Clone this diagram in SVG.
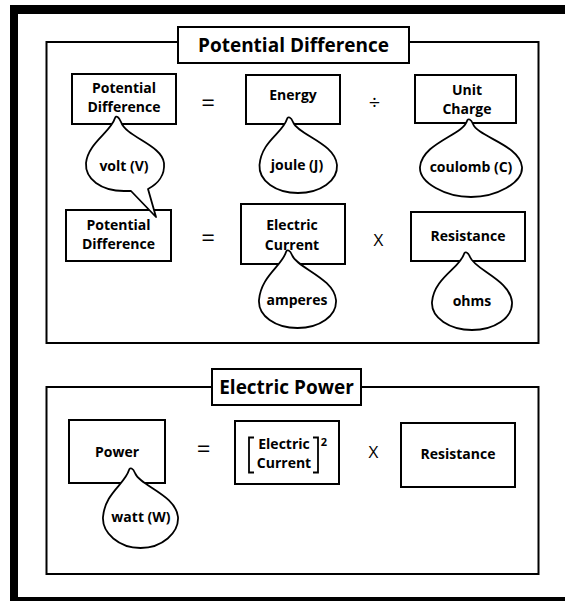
<svg xmlns="http://www.w3.org/2000/svg" width="565" height="601" viewBox="0 0 565 601">
<style>
.frame{fill:none;stroke:#000;stroke-width:2}
.box{fill:#fff;stroke:#000;stroke-width:2}
.bub{fill:#fff;stroke:#000;stroke-width:1.8;stroke-linejoin:round}
.lbl{font-family:"Open Sans","Liberation Sans",sans-serif;font-weight:700;font-size:14px;text-anchor:middle;fill:#000}
.ttl{font-family:"Open Sans","Liberation Sans",sans-serif;font-weight:700;font-size:19px;text-anchor:middle;fill:#000}
.op{font-family:"Open Sans","Liberation Sans",sans-serif;font-weight:400;text-anchor:middle;fill:#000}
</style>
<rect x="0" y="0" width="565" height="601" fill="#fff"/>
<g id="outer-border" fill="#000">
<rect x="10" y="5" width="555" height="9"/>
<rect x="10" y="5" width="8" height="596"/>
<rect x="10" y="597" width="555" height="4"/>
</g>
<g id="section-potential">
<rect class="frame" x="46.5" y="42" width="492" height="301"/>
<g id="title-potential"><rect class="box" x="178" y="27" width="231" height="36"/><text class="ttl" x="293.5" y="51.5">Potential Difference</text></g>
</g>
<g id="section-power">
<rect class="frame" x="46.5" y="387" width="492" height="187"/>
<g id="title-power"><rect class="box" x="212" y="369" width="149" height="36"/><text class="ttl" x="286.5" y="393.5">Electric Power</text></g>
</g>
<g id="pd1"><rect class="box" x="72" y="74" width="104" height="50"/><text class="lbl" x="124" y="93">Potential</text><text class="lbl" x="124" y="112.3">Difference</text></g>
<g id="energy"><rect class="box" x="246" y="75" width="94" height="49"/><text class="lbl" x="293" y="100">Energy</text></g>
<g id="unitcharge"><rect class="box" x="415" y="75" width="101" height="48"/><text class="lbl" x="467" y="94.5">Unit</text><text class="lbl" x="467" y="113.8">Charge</text></g>
<g id="pd2"><rect class="box" x="66" y="210" width="105" height="51"/><text class="lbl" x="118.5" y="229.5">Potential</text><text class="lbl" x="118.5" y="248.8">Difference</text></g>
<g id="current"><rect class="box" x="241" y="204" width="104" height="60"/><text class="lbl" x="292" y="230">Electric</text><text class="lbl" x="292" y="250">Current</text></g>
<g id="resistance1"><rect class="box" x="411" y="212" width="114" height="49"/><text class="lbl" x="468" y="241">Resistance</text></g>
<g id="power"><rect class="box" x="69" y="420" width="96" height="63"/><text class="lbl" x="117" y="457">Power</text></g>
<g id="current-sq"><rect class="box" x="235" y="421" width="104" height="63"/>
<path d="M254,437.5 H249 V472.5 H254 M313,437.5 H318 V472.5 H313" fill="none" stroke="#000" stroke-width="1.8"/>
<text class="lbl" x="284" y="449">Electric</text><text class="lbl" x="284" y="468.3">Current</text>
<text class="lbl" x="324" y="445.5" style="font-size:11px">2</text></g>
<g id="resistance2"><rect class="box" x="401" y="423" width="114" height="64"/><text class="lbl" x="458" y="458.5">Resistance</text></g>
<g id="operators">
<text class="op" x="208" y="111" style="font-size:24px">=</text>
<text class="op" x="374.5" y="109" style="font-size:20px">÷</text>
<text class="op" x="208" y="246" style="font-size:24px">=</text>
<text class="op" x="378.5" y="246" style="font-size:17px">X</text>
<text class="op" x="203.5" y="457" style="font-size:24px">=</text>
<text class="op" x="373.5" y="458" style="font-size:17px">X</text>
</g>
<g id="connectors">
<g id="unit-volt"><path class="bub" d="M115,118 C111,132 88,143 86,163 C85,179 101,191 124,191 L131,191 L156,217 L148,189 C158,184 165,175 164,163 C162,145 126,137 121,122 C119,117 116,115 115,118 Z"/><text class="lbl" x="124" y="171">volt (V)</text></g>
<g id="unit-joule"><path class="bub" d="M287,119 C283,133 261.5,141 259.5,165 C258.5,181 276,193 298,193 C320,193 338,181 337,165 C335,143 298,135 293,122 C291,117 288,116 287,119 Z"/><text class="lbl" x="297" y="170">joule (J)</text></g>
<g id="unit-coulomb"><path class="bub" d="M467,121 C463,135 422,143 420,167 C419,183 446,197 471,197 C496,197 523,183 522,167 C520,145 478,137 473,124 C471,119 468,118 467,121 Z"/><text class="lbl" x="471" y="172">coulomb (C)</text></g>
<g id="unit-amperes"><path class="bub" d="M286,252 C282,266 261,276 259,300 C258,316 275.5,328 297.5,328 C319.5,328 337,316 336,300 C334,278 297,268 292,255 C290,250 287,249 286,252 Z"/><text class="lbl" x="297" y="305">amperes</text></g>
<g id="unit-ohms"><path class="bub" d="M464,254 C460,268 434,278 432,302 C431,318 450,330 472,330 C494,330 513,318 512,302 C510,280 475,270 470,257 C468,252 465,251 464,254 Z"/><text class="lbl" x="472" y="306">ohms</text></g>
<g id="unit-watt"><path class="bub" d="M129,470 C125,484 105,493 103,517 C102,533 119,548 140.5,548 C162,548 179,533 178,517 C176,495 140,486 135,473 C133,468 130,467 129,470 Z"/><text class="lbl" x="141" y="522">watt (W)</text></g>
</g>
</svg>
